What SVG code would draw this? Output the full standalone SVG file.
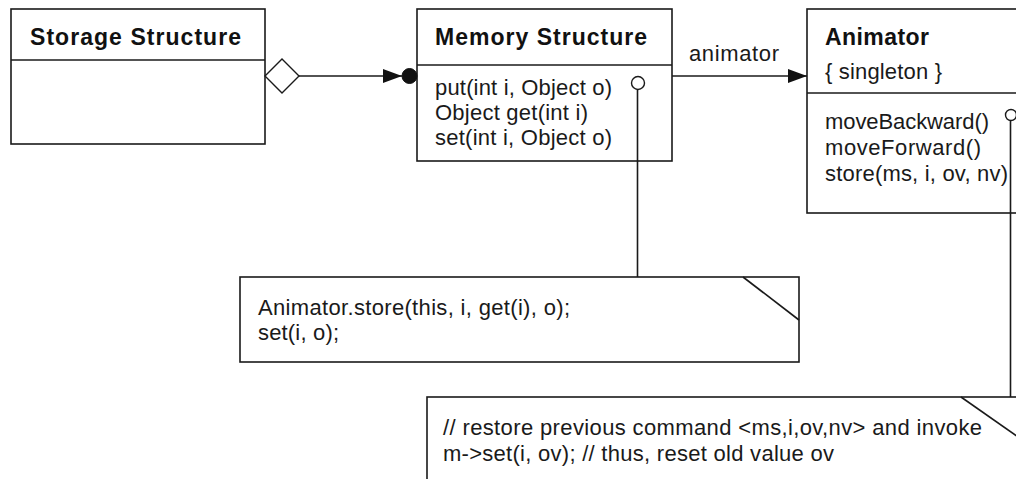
<svg xmlns="http://www.w3.org/2000/svg" width="1016" height="479" viewBox="0 0 1016 479">
  <style>
    .box { fill: #ffffff; stroke: #1a1a1a; stroke-width: 1.6; }
    .line { fill: none; stroke: #1a1a1a; stroke-width: 1.6; }
    .title { font-family: "Liberation Sans", Arial, sans-serif; font-size: 23px; font-weight: bold; fill: #111; }
    .txt { font-family: "Liberation Sans", Arial, sans-serif; font-size: 22px; fill: #1a1a1a; }
    .solid { fill: #111; stroke: #111; stroke-width: 1; }
    .hollow { fill: #ffffff; stroke: #1a1a1a; stroke-width: 1.4; }
  </style>
  <defs>
    <marker id="arrow" markerWidth="20" markerHeight="16" refX="19" refY="8" orient="auto" markerUnits="userSpaceOnUse">
      <path d="M0,1 L19,8 L0,15 Z" fill="#111"/>
    </marker>
  </defs>
  <rect width="1016" height="479" fill="#ffffff"/>

  <!-- Storage Structure class -->
  <g id="storage-structure">
    <rect class="box" x="11" y="9" width="254" height="135"/>
    <line class="line" x1="11" y1="60" x2="265" y2="60"/>
    <text class="title" x="30" y="45" textLength="211" lengthAdjust="spacing">Storage Structure</text>
  </g>

  <!-- Memory Structure class -->
  <g id="memory-structure">
    <rect class="box" x="417" y="9" width="255" height="152"/>
    <line class="line" x1="417" y1="65" x2="672" y2="65"/>
    <text class="title" x="435" y="45" textLength="212" lengthAdjust="spacing">Memory Structure</text>
    <text class="txt" x="435" y="95" textLength="177" lengthAdjust="spacing">put(int i, Object o)</text>
    <text class="txt" x="435" y="120" textLength="153" lengthAdjust="spacing">Object get(int i)</text>
    <text class="txt" x="435" y="145" textLength="177" lengthAdjust="spacing">set(int i, Object o)</text>
  </g>

  <!-- Animator class (runs off the right edge) -->
  <g id="animator">
    <rect class="box" x="807" y="9" width="230" height="204"/>
    <line class="line" x1="807" y1="93" x2="1030" y2="93"/>
    <text class="title" x="825" y="45" textLength="104" lengthAdjust="spacing">Animator</text>
    <text class="txt" x="825" y="79" textLength="117" lengthAdjust="spacing">{ singleton }</text>
    <text class="txt" x="825" y="129" textLength="164" lengthAdjust="spacing">moveBackward()</text>
    <text class="txt" x="825" y="155" textLength="156" lengthAdjust="spacing">moveForward()</text>
    <text class="txt" x="825" y="181" textLength="183" lengthAdjust="spacing">store(ms, i, ov, nv)</text>
  </g>

  <!-- Note attached to put() -->
  <g id="note-put">
    <rect class="box" x="240" y="277" width="559" height="85"/>
    <line class="line" x1="743" y1="277" x2="799" y2="320"/>
    <text class="txt" x="258" y="315" textLength="312" lengthAdjust="spacing">Animator.store(this, i, get(i), o);</text>
    <text class="txt" x="258" y="340" textLength="81" lengthAdjust="spacing">set(i, o);</text>
  </g>

  <!-- Note attached to moveBackward() -->
  <g id="note-move-backward">
    <rect class="box" x="427" y="397" width="620" height="100"/>
    <line class="line" x1="961" y1="397" x2="1018" y2="437"/>
    <text class="txt" x="443" y="435" textLength="539" lengthAdjust="spacing">// restore previous command &lt;ms,i,ov,nv&gt; and invoke</text>
    <text class="txt" x="443" y="461" textLength="391" lengthAdjust="spacing">m-&gt;set(i, ov); // thus, reset old value ov</text>
  </g>

  <!-- Connectors -->
  <g id="connectors">
    <!-- aggregation: Storage Structure to Memory Structure -->
    <line class="line" x1="299" y1="76" x2="402" y2="76" marker-end="url(#arrow)"/>
    <polygon class="hollow" points="265,76 282,59 299,76 282,93"/>
    <circle class="solid" cx="409.5" cy="76" r="7.5"/>

    <!-- association: Memory Structure to Animator -->
    <line class="line" x1="672" y1="76" x2="807" y2="76" marker-end="url(#arrow)"/>
    <text class="txt" x="689" y="61" textLength="90" lengthAdjust="spacing">animator</text>

    <!-- note anchor from put() -->
    <circle class="hollow" cx="638" cy="83" r="6.5"/>
    <line class="line" x1="637.5" y1="89.5" x2="637.5" y2="277"/>

    <!-- note anchor from moveBackward() -->
    <circle class="hollow" cx="1011" cy="115" r="5.5"/>
    <line class="line" x1="1010.5" y1="120.5" x2="1010.5" y2="397"/>
  </g>
</svg>
